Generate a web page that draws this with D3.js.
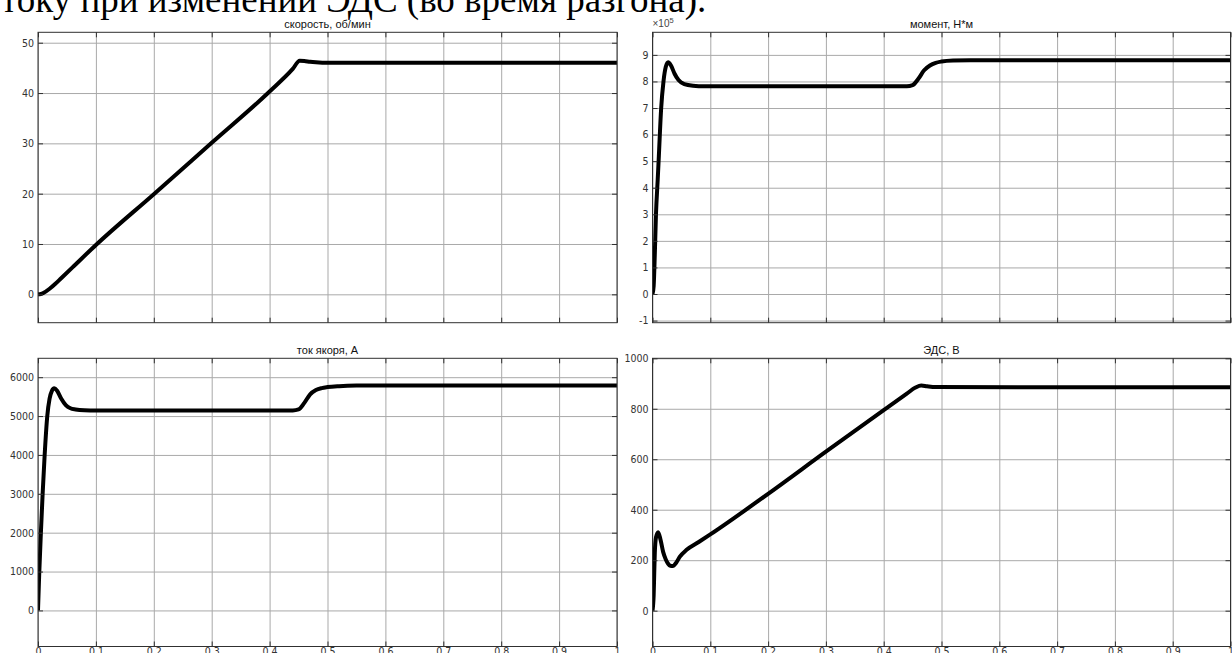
<!DOCTYPE html>
<html>
<head>
<meta charset="utf-8">
<script src="https://d3js.org/d3.v7.min.js"></script>
<style>
    body { margin: 0; background: #fff; overflow: hidden; }
    .tick text { font-family: 'Liberation Sans Narrow', 'Arial Narrow', 'DejaVu Sans Condensed', sans-serif;
                 font-size: 10.5px; fill: #333; }
    .title     { font-family: 'Liberation Sans', Arial, sans-serif; font-size: 11px; fill: #111; }
</style>
</head>
<body>
<div id="graph"></div>
<script>

// Time axis (shared by all four panels)
var timeTicks      = [ 0, 0.1, 0.2, 0.3, 0.4, 0.5, 0.6, 0.7, 0.8, 0.9, 1 ];
var timeTickLabels = [ '0', '0.1', '0.2', '0.3', '0.4', '0.5', '0.6', '0.7', '0.8', '0.9', '1' ];

// скорость, об/мин
var speedT = [ 0, 0.005, 0.01, 0.02, 0.03, 0.04, 0.06, 0.1, 0.2, 0.3, 0.4, 0.44, 0.452, 0.46, 0.47, 0.48, 0.5, 1 ];
var speedV = [ 0, 0.05, 0.3, 1.1, 2.1, 3.2, 5.4, 9.8, 19.9, 30.1, 40.3, 44.8, 46.4, 46.35, 46.2, 46.1, 46.0, 46.0 ];
var speedTicks = [ 0, 10, 20, 30, 40, 50 ];

// момент, Н*м  (values in units of 10^5)
var torqueT = [ 0, 0.002, 0.004, 0.006, 0.009, 0.011, 0.015, 0.019, 0.023, 0.027, 0.032, 0.038, 0.045, 0.055,
                0.07, 0.09, 0.44, 0.45, 0.46, 0.47, 0.48, 0.49, 0.5, 0.52, 0.55, 0.6, 1 ];
var torqueV = [ 0, 0.3, 1.5, 3.0, 4.3, 5.2, 7.0, 8.0, 8.55, 8.72, 8.6, 8.3, 8.05, 7.9,
                7.84, 7.82, 7.82, 7.86, 8.1, 8.42, 8.6, 8.7, 8.75, 8.79, 8.8, 8.8, 8.8 ];
var torqueTicks = [ -1, 0, 1, 2, 3, 4, 5, 6, 7, 8, 9 ];

// ток якоря, А
var currentT = [ 0, 0.002, 0.005, 0.008, 0.0115, 0.016, 0.02, 0.024, 0.028, 0.033, 0.04, 0.048, 0.056, 0.065,
                 0.08, 0.1, 0.44, 0.45, 0.46, 0.47, 0.48, 0.49, 0.5, 0.52, 0.55, 0.6, 1 ];
var currentV = [ 0, 900, 2000, 3000, 4000, 5000, 5450, 5650, 5715, 5650, 5450, 5280, 5200, 5170,
                 5150, 5145, 5145, 5170, 5340, 5560, 5670, 5720, 5745, 5770, 5785, 5788, 5788 ];
var currentTicks = [ 0, 1000, 2000, 3000, 4000, 5000, 6000 ];

// ЭДС, В
var emfT = [ 0, 0.002, 0.003, 0.004, 0.006, 0.0098, 0.014, 0.0185, 0.023, 0.027, 0.031, 0.035, 0.041, 0.047,
             0.059, 0.08, 0.1, 0.2, 0.3, 0.4, 0.44, 0.455, 0.465, 0.475, 0.49, 1 ];
var emfV = [ 0, 60, 147, 230, 290, 311, 280, 232, 203, 186, 178, 177, 190, 213,
             241, 272, 302, 463, 630, 795, 860, 884, 892, 889, 886, 885 ];
var emfTicks = [ 0, 200, 400, 600, 800, 1000 ];


var overallWidth  = 1232;
var overallHeight = 653;

var gridColour  = '#a9a9a9';
var frameColour = '#303030';

var svg = d3.select ('#graph').append ('svg')
            .attr ('width', overallWidth)
            .attr ('height', overallHeight);

// Caption fragment from the page, cut at the top
svg.append ('text')
   .attr ('x', 1)
   .attr ('y', 12)
   .style ('font-family', "'Liberation Serif', 'Times New Roman', serif")
   .style ('font-size', '37px')
   .style ('fill', '#000')
   .text ('току при изменении ЭДС (во время разгона).');


//
// Draw one subplot
//
var DrawPanel = function (p, idx)
{
    var x = d3.scaleLinear ().domain ([0, 1]).range ([p.left, p.right]);
    var y = d3.scaleLinear ().domain (p.yDomain).range ([p.bottom, p.top]);

    var w = p.right - p.left;
    var h = p.bottom - p.top;

    var g = svg.append ('g');

    g.append ('rect')
     .attr ('x', p.left).attr ('y', p.top)
     .attr ('width', w).attr ('height', h)
     .style ('fill', '#fff');

    // grid lines
    g.append ('g')
     .attr ('transform', 'translate(0,' + p.bottom + ')')
     .call (d3.axisBottom (x).tickValues (timeTicks).tickSize (-h).tickFormat (''))
     .call (function (s) { s.select ('.domain').remove (); s.selectAll ('line').attr ('stroke', gridColour); });

    g.append ('g')
     .attr ('transform', 'translate(' + p.left + ',0)')
     .call (d3.axisLeft (y).tickValues (p.yTicks).tickSize (-w).tickFormat (''))
     .call (function (s) { s.select ('.domain').remove (); s.selectAll ('line').attr ('stroke', gridColour); });

    // the curve
    g.append ('clipPath').attr ('id', 'clip' + idx)
     .append ('rect')
     .attr ('x', p.left).attr ('y', p.top)
     .attr ('width', w).attr ('height', h);

    var line = d3.line ()
                 .x (function (d) { return x (d[0]); })
                 .y (function (d) { return y (d[1]); })
                 .curve (d3.curveMonotoneX);

    g.append ('path')
     .datum (d3.zip (p.t, p.v))
     .attr ('clip-path', 'url(#clip' + idx + ')')
     .attr ('d', line)
     .style ('fill', 'none')
     .style ('stroke', '#000')
     .style ('stroke-width', 4)
     .style ('stroke-linejoin', 'round');

    // inward ticks on all four sides
    var axes = [
        [ d3.axisBottom (x).tickValues (timeTicks), 'translate(0,' + p.bottom + ')', p.showX ],
        [ d3.axisTop (x).tickValues (timeTicks),    'translate(0,' + p.top + ')',    false ],
        [ d3.axisLeft (y).tickValues (p.yTicks),    'translate(' + p.left + ',0)',   true ],
        [ d3.axisRight (y).tickValues (p.yTicks),   'translate(' + p.right + ',0)',  false ]
    ];

    for (var i = 0; i < axes.length; i++)
    {
        var ax = axes[i][0].tickSizeInner (-5).tickSizeOuter (0).tickPadding (i == 0 ? 1 : 4);

        if (!axes[i][2])
            ax.tickFormat ('');
        else if (i == 0)
            ax.tickFormat (function (d, k) { return timeTickLabels[k]; });
        else
            ax.tickFormat (function (d) { return String (d); });

        g.append ('g')
         .attr ('transform', axes[i][1])
         .call (ax)
         .call (function (s) { s.select ('.domain').remove (); s.selectAll ('line').attr ('stroke', frameColour); });
    }

    // frame
    g.append ('rect')
     .attr ('x', p.left).attr ('y', p.top)
     .attr ('width', w).attr ('height', h)
     .style ('fill', 'none')
     .style ('stroke', frameColour)
     .style ('stroke-width', 1);

    // title
    g.append ('text')
     .attr ('class', 'title')
     .attr ('x', (p.left + p.right) / 2)
     .attr ('y', p.top - 4)
     .attr ('text-anchor', 'middle')
     .text (p.title);

    if (p.exponent)
    {
        var ex = g.append ('text')
                  .attr ('x', p.left)
                  .attr ('y', p.top - 5)
                  .style ('font-family', "'Liberation Sans', Arial, sans-serif")
                  .style ('font-size', '10px')
                  .style ('fill', '#444');
        ex.append ('tspan').text ('×10');
        ex.append ('tspan').attr ('dy', -4).style ('font-size', '7.5px').text (p.exponent);
    }
};


var panels = [
    { title: 'скорость, об/мин', t: speedT, v: speedV, yTicks: speedTicks, yDomain: [ -5.64, 52.07 ],
      left: 38, right: 617, top: 32.3, bottom: 322.7, showX: false },
    { title: 'момент, Н*м', t: torqueT, v: torqueV, yTicks: torqueTicks, yDomain: [ -1.08, 9.85 ],
      left: 652.5, right: 1230.5, top: 32.3, bottom: 322.7, showX: false, exponent: '5' },
    { title: 'ток якоря, А', t: currentT, v: currentV, yTicks: currentTicks, yDomain: [ -928, 6486 ],
      left: 38, right: 617, top: 358.3, bottom: 646.5, showX: true },
    { title: 'ЭДС, В', t: emfT, v: emfV, yTicks: emfTicks, yDomain: [ -142, 1000 ],
      left: 652.5, right: 1230.5, top: 358.3, bottom: 646.5, showX: true }
];

panels.forEach (DrawPanel);

</script>
</body>
</html>
